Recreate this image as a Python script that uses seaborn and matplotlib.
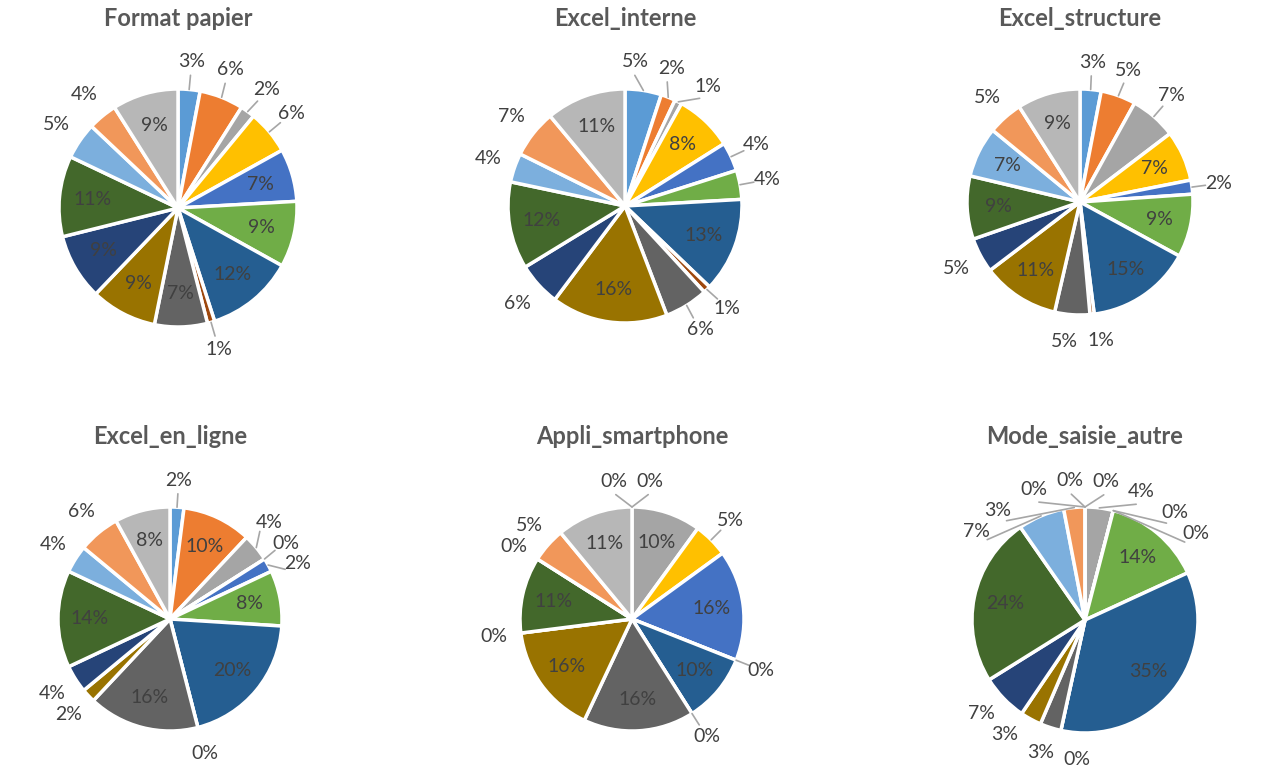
import numpy as np
import matplotlib
matplotlib.use("Agg")
from matplotlib import pyplot as plt
import seaborn as sns

# titles of the six pies
titles = ["Format papier", "Excel_interne", "Excel_structure",
          "Excel_en_ligne", "Appli_smartphone", "Mode_saisie_autre"]

# percentages per slice, same 15 categories in every pie (labels show rounded values)
format_papier = [3, 6, 2, 6, 7.2, 9, 12, 1, 7.2, 9, 9, 11, 5, 4, 9]
excel_interne = [5, 2, 1, 8, 4, 4, 13, 1, 6, 16, 6, 12, 4, 6.6, 11]
excel_structure = [3, 5, 6.6, 7.2, 2, 9, 15, 0.6, 5, 11, 5, 9, 7.2, 5, 9]
excel_en_ligne = [2, 10, 4, 0, 2, 8, 20, 0, 16, 2, 4, 14, 4, 6, 8]
appli_smartphone = [0, 0, 10, 5, 16, 0, 10, 0, 16, 16, 0, 11, 0, 5, 11]
mode_saisie_autre = [0, 0, 4, 0, 0, 14, 35, 0, 3, 3, 6.6, 24, 6.6, 3, 0]

series = [format_papier, excel_interne, excel_structure,
          excel_en_ligne, appli_smartphone, mode_saisie_autre]

# excel office palette
excel_colors = ["#5B9BD5", "#ED7D31", "#A5A5A5", "#FFC000", "#4472C4", "#70AD47",
                "#255E91", "#9E480E", "#636363", "#997300", "#264478", "#43682B",
                "#7CAFDD", "#F1975A", "#B7B7B7"]

sns.set_theme(style="white")
plt.rcParams['font.family'] = ['Lato', 'DejaVu Sans']
palette = sns.color_palette(excel_colors)

W, H = 1268, 775
fig = plt.figure(figsize=(W / 100, H / 100), dpi=100)

# pie centre (x, y) and radius in pixels, title height
layout = [(178, 208, 119, 18), (625, 206, 117, 18), (1080, 202, 113, 18),
          (170, 619, 112, 437), (632, 619, 112, 437), (1085, 620, 113, 437)]
L = 1.6
LR = 1.24          # radius of outside labels
LW, LH = 36, 21    # label box in pixels


def need_sep(theta, r_px):
    """min angle (deg) between two neighbour labels so their boxes do not touch"""
    t = np.deg2rad(theta)
    s, c = abs(np.sin(t)) + 1e-6, abs(np.cos(t)) + 1e-6
    return np.rad2deg(min(LW / (r_px * s), LH / (r_px * c)))


def spread(angles, r_px):
    """push clockwise-ordered label angles apart, keeping clusters centred"""
    n = len(angles)
    if n < 2:
        return list(angles)
    # start the sequence after the biggest empty arc
    gaps = [angles[i] - angles[i + 1] for i in range(n - 1)]
    gaps.append(angles[-1] - (angles[0] - 360))
    k = int(np.argmax(gaps))
    order = list(range(k + 1, n)) + list(range(0, k + 1))
    seq = [angles[i] - (360 if i <= k and k < n - 1 else 0) for i in order]
    seq = np.array(seq, dtype=float)
    for _ in range(400):
        moved = False
        for i in range(1, n):
            sep = need_sep((seq[i - 1] + seq[i]) / 2, r_px)
            d = seq[i - 1] - seq[i]
            if d < sep - 1e-3:
                shift = (sep - d) / 2
                seq[i - 1] += shift
                seq[i] -= shift
                moved = True
        if not moved:
            break
    out = [0.0] * n
    for j, i in enumerate(order):
        out[i] = seq[j]
    return out


for title, values, (cx, cy, r, ty) in zip(titles, series, layout):
    S = 2 * L * r
    ax = fig.add_axes([(cx - S / 2) / W, 1 - (cy + S / 2) / H, S / W, S / H])
    wedges, _ = ax.pie(values, colors=palette, startangle=90, counterclock=False,
                       radius=1, wedgeprops=dict(edgecolor="white", linewidth=2.5))
    ax.set_xlim(-L, L)
    ax.set_ylim(-L, L)
    ax.axis("off")

    outside = []
    for w, v in zip(wedges, values):
        mid = (w.theta1 + w.theta2) / 2
        if v >= 7:
            rad = np.deg2rad(mid)
            ax.text(0.72 * np.cos(rad), 0.72 * np.sin(rad), f"{v:.0f}%", ha="center",
                    va="center", fontsize=14, color="#404040")
        else:
            outside.append((mid, v))

    # keep clockwise order starting from the top
    mids = [m if m <= 90 else m - 360 for m, _ in outside]
    placed = spread(mids, LR * r)
    for (mid, v), ang in zip(outside, placed):
        rad = np.deg2rad(ang)
        ax.text(LR * np.cos(rad), LR * np.sin(rad), f"{v:.0f}%", ha="center",
                va="center", fontsize=14, color="#404040")
        m_adj = mid if mid <= 90 else mid - 360
        if abs(ang - m_adj) > 10:
            m = np.deg2rad(mid)
            ax.plot([1.0 * np.cos(m), 1.12 * np.cos(rad)],
                    [1.0 * np.sin(m), 1.12 * np.sin(rad)],
                    color="#A6A6A6", linewidth=1.2)

    fig.text(cx / W, 1 - ty / H, title, ha="center", va="center",
             fontsize=17, fontweight="bold", color="#595959")

fig.savefig("out.png", dpi=100)
